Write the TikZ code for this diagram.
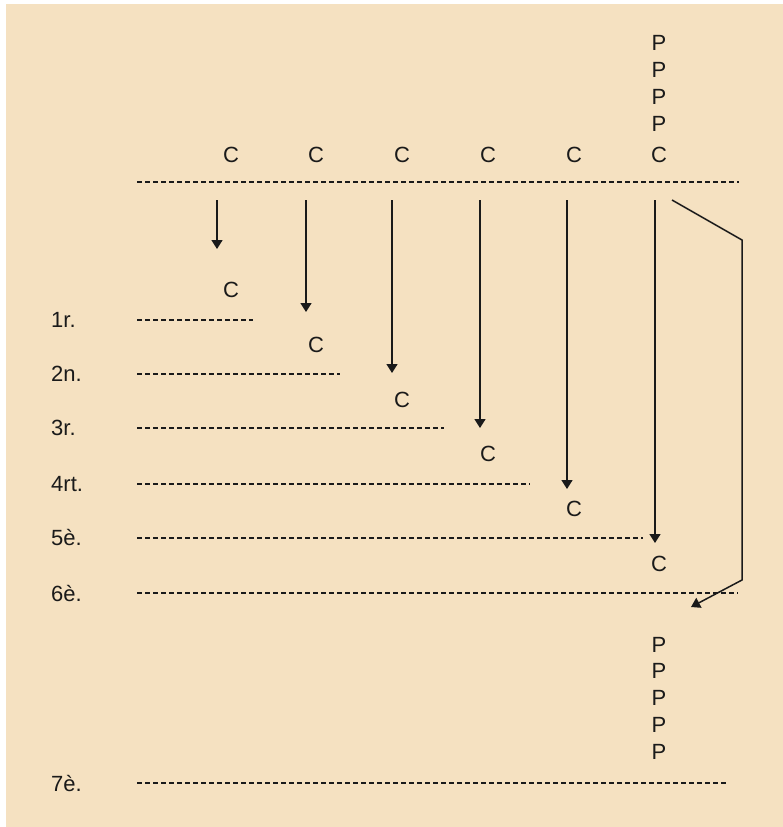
\documentclass[tikz,border=0pt]{standalone}
\usepackage{fontspec}
\setmainfont{Liberation Sans}
\usetikzlibrary{arrows.meta}
\definecolor{bgc}{HTML}{F5E1C1}
\definecolor{ink}{HTML}{1A1A1A}
\begin{document}
\begin{tikzpicture}[x=1pt,y=-1pt,
  lbl/.style={inner sep=0pt,font=\fontsize{22}{22}\selectfont,text=ink},
  rowlbl/.style={lbl,anchor=west},
  dline/.style={draw=ink,line width=1.5pt,dash pattern=on 5pt off 3pt},
  arr/.style={draw=ink,line width=1.5pt,-{Triangle[width=11pt,length=9pt]}}]
\useasboundingbox (0,0) rectangle (783,827);
\fill[white] (0,0) rectangle (783,827);
\fill[bgc] (6,4) rectangle (783,827);
% top P column
\node[lbl] (pt1) at (659,43) {P};
\node[lbl] (pt2) at (659,70) {P};
\node[lbl] (pt3) at (659,97) {P};
\node[lbl] (pt4) at (659,124) {P};
% top C row
\node[lbl] (ct1) at (231,155) {C};
\node[lbl] (ct2) at (316,155) {C};
\node[lbl] (ct3) at (402,155) {C};
\node[lbl] (ct4) at (488,155) {C};
\node[lbl] (ct5) at (574,155) {C};
\node[lbl] (ct6) at (659,155) {C};
% top dashed line
\coordinate (t0) at (137,182);
\coordinate (t1) at (739,182);
\draw[dline] (t0) -- (t1);
% row lines and labels
\node[rowlbl] (r1) at (51,320) {1r.};
\node[rowlbl] (r2) at (51,374) {2n.};
\node[rowlbl] (r3) at (51,428) {3r.};
\node[rowlbl] (r4) at (51,484) {4rt.};
\node[rowlbl] (r5) at (51,538) {5è.};
\node[rowlbl] (r6) at (51,593) {6è.};
\node[rowlbl] (r7) at (51,783) {7è.};
\coordinate (l1a) at (137,320); \coordinate (l1b) at (253,320);
\coordinate (l2a) at (137,374); \coordinate (l2b) at (340,374);
\coordinate (l3a) at (137,428); \coordinate (l3b) at (444,428);
\coordinate (l4a) at (137,484); \coordinate (l4b) at (530,484);
\coordinate (l5a) at (137,538); \coordinate (l5b) at (643,538);
\coordinate (l6a) at (137,593); \coordinate (l6b) at (738,593);
\coordinate (l7a) at (137,783); \coordinate (l7b) at (728,783);
\draw[dline] (l1a) -- (l1b);
\draw[dline] (l2a) -- (l2b);
\draw[dline] (l3a) -- (l3b);
\draw[dline] (l4a) -- (l4b);
\draw[dline] (l5a) -- (l5b);
\draw[dline] (l6a) -- (l6b);
\draw[dline] (l7a) -- (l7b);
% lower C labels
\node[lbl] (cb1) at (231,290) {C};
\node[lbl] (cb2) at (316,345) {C};
\node[lbl] (cb3) at (402,400) {C};
\node[lbl] (cb4) at (488,454) {C};
\node[lbl] (cb5) at (574,509) {C};
\node[lbl] (cb6) at (659,564) {C};
% vertical arrows
\coordinate (a1s) at (217,200); \coordinate (a1e) at (217,249);
\coordinate (a2s) at (306,200); \coordinate (a2e) at (306,312);
\coordinate (a3s) at (392,200); \coordinate (a3e) at (392,373);
\coordinate (a4s) at (480,200); \coordinate (a4e) at (480,428);
\coordinate (a5s) at (567,200); \coordinate (a5e) at (567,489);
\coordinate (a6s) at (655,200); \coordinate (a6e) at (655,543);
\draw[arr] (a1s) -- (a1e);
\draw[arr] (a2s) -- (a2e);
\draw[arr] (a3s) -- (a3e);
\draw[arr] (a4s) -- (a4e);
\draw[arr] (a5s) -- (a5e);
\draw[arr] (a6s) -- (a6e);
% bent arrow
\coordinate (bs) at (672,200);
\coordinate (b1) at (742,240);
\coordinate (b2) at (742,580);
\coordinate (be) at (691,607);
\draw[arr,line join=miter] (bs) -- (b1) -- (b2) -- (be);
% bottom P column
\node[lbl] (pb1) at (659,645) {P};
\node[lbl] (pb2) at (659,671) {P};
\node[lbl] (pb3) at (659,698) {P};
\node[lbl] (pb4) at (659,725) {P};
\node[lbl] (pb5) at (659,752) {P};
\end{tikzpicture}
\end{document}
